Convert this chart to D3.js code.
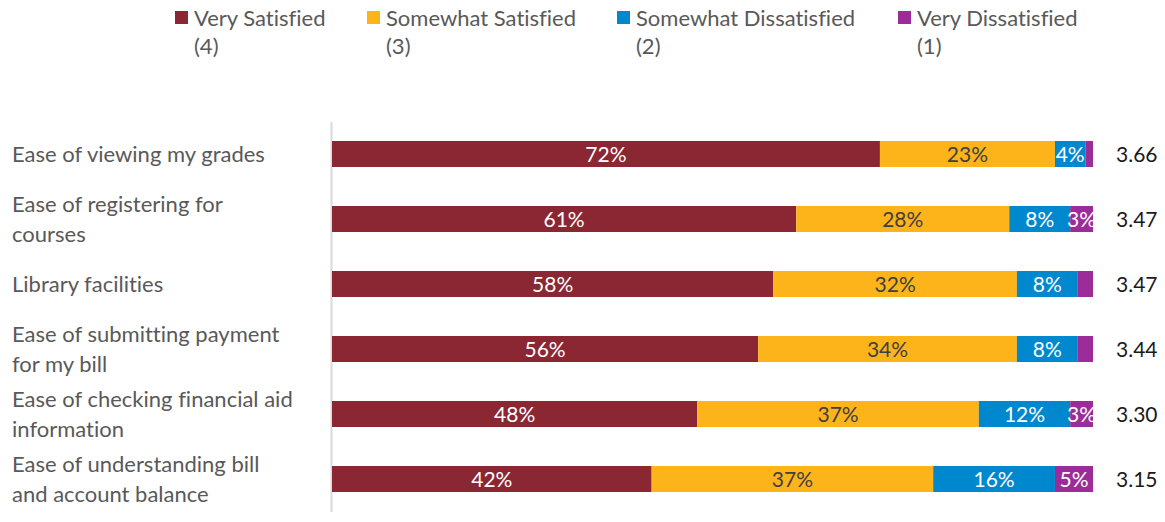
<!DOCTYPE html>
<html>
<head>
<meta charset="utf-8">
<script src="https://cdn.jsdelivr.net/npm/d3@7"></script>
<style>
  html, body { margin: 0; padding: 0; background: #ffffff; }
  svg { display: block; font-family: Lato, "Open Sans", sans-serif; font-variant-ligatures: none; }
</style>
</head>
<body>
<svg id="chart" width="1165" height="522"></svg>
<script>
// Satisfaction survey items (top to bottom)
const categories = [
  ["Ease of viewing my grades"],
  ["Ease of registering for", "courses"],
  ["Library facilities"],
  ["Ease of submitting payment", "for my bill"],
  ["Ease of checking financial aid", "information"],
  ["Ease of understanding bill", "and account balance"]
];

// Response shares (%) per rating level
const verySatisfied      = [72, 61, 58, 56, 48, 42];
const somewhatSatisfied  = [23, 28, 32, 34, 37, 37];
const somewhatDissatisfied = [4, 8, 8, 8, 12, 16];
const veryDissatisfied   = [1, 3, 2, 2, 3, 5];

// Which segment values carry a printed label
const veryDissatisfiedLabelled = [false, true, false, false, true, true];

// Mean rating on the 1–4 scale
const meanScores = ["3.66", "3.47", "3.47", "3.44", "3.30", "3.15"];

const seriesNames = ["Very Satisfied", "Somewhat Satisfied", "Somewhat Dissatisfied", "Very Dissatisfied"];
const seriesCodes = ["(4)", "(3)", "(2)", "(1)"];
const seriesColors = ["#8b2633", "#fdb31a", "#0088ce", "#9b2c98"];
const labelColors = ["#ffffff", "#404040", "#ffffff", "#ffffff"];

const svg = d3.select("#chart");

const rows = categories.map((c, i) => ({
  key: "r" + i,
  lines: c,
  vals: [verySatisfied[i], somewhatSatisfied[i], somewhatDissatisfied[i], veryDissatisfied[i]],
  mean: meanScores[i],
  lastLabel: veryDissatisfiedLabelled[i]
}));

const x = d3.scaleLinear().domain([0, 100]).range([332, 1093]);
const y = d3.scaleBand()
  .domain(rows.map(r => r.key))
  .range([121.5, 511.5])
  .paddingInner(0.6)
  .paddingOuter(0.3);

// Category axis line
const axisG = svg.append("g")
  .attr("transform", `translate(${331},0)`)
  .call(d3.axisLeft(y).tickSize(0).tickFormat(""));
axisG.select(".domain").attr("stroke", "#d9d9d9").attr("stroke-width", 2);

// Stacked segments
const stackKeys = [0, 1, 2, 3];
const stacked = d3.stack()
  .keys(stackKeys)
  .value((d, k) => d.vals[k])(rows);

const layers = svg.append("g").selectAll("g")
  .data(stacked)
  .join("g")
  .attr("fill", d => seriesColors[d.key]);

layers.selectAll("rect")
  .data(d => d.map(p => ({ p, k: d.key })))
  .join("rect")
  .attr("x", d => x(d.p[0]))
  .attr("width", d => x(d.p[1]) - x(d.p[0]))
  .attr("y", d => y(d.p.data.key))
  .attr("height", y.bandwidth());

// Segment value labels
layers.selectAll("text")
  .data(d => d.map(p => ({ p, k: d.key })).filter(d => d.k < 3 || d.p.data.lastLabel))
  .join("text")
  .attr("x", d => (x(d.p[0]) + x(d.p[1])) / 2)
  .attr("y", d => y(d.p.data.key) + y.bandwidth() / 2)
  .attr("dy", "0.36em")
  .attr("text-anchor", "middle")
  .attr("font-size", 21)
  .attr("fill", d => labelColors[d.k])
  .text(d => d.p.data.vals[d.k] + "%");

// Mean scores at the right
svg.append("g").selectAll("text")
  .data(rows)
  .join("text")
  .attr("x", 1116)
  .attr("y", d => y(d.key) + y.bandwidth() / 2)
  .attr("dy", "0.36em")
  .attr("font-size", 21)
  .attr("fill", "#1a1a1a")
  .text(d => d.mean);

// Category labels, wrapped over one or two lines
const lineH = 30;
svg.append("g").selectAll("text")
  .data(rows)
  .join("text")
  .attr("x", 12)
  .attr("font-size", 22)
  .attr("fill", "#595959")
  .each(function(d) {
    const t = d3.select(this);
    const cy = y(d.key) + y.bandwidth() / 2;
    const n = d.lines.length;
    d.lines.forEach((ln, j) => {
      t.append("tspan")
        .attr("x", 12)
        .attr("y", cy + (j - (n - 1) / 2) * lineH)
        .attr("dy", "0.36em")
        .text(ln);
    });
  });

// Legend
const legendX = [175, 367, 617, 898];
const legend = svg.append("g").selectAll("g")
  .data(seriesNames.map((n, i) => ({ n, i })))
  .join("g")
  .attr("transform", d => `translate(${legendX[d.i]},0)`);

legend.append("rect")
  .attr("x", 0).attr("y", 11)
  .attr("width", 13).attr("height", 13)
  .attr("fill", d => seriesColors[d.i]);

legend.append("text")
  .attr("font-size", 22)
  .attr("fill", "#595959")
  .each(function(d) {
    const t = d3.select(this);
    t.append("tspan").attr("x", 19).attr("y", 18).attr("dy", "0.36em").text(d.n);
    t.append("tspan").attr("x", 19).attr("y", 46).attr("dy", "0.36em").text(seriesCodes[d.i]);
  });
</script>
</body>
</html>
